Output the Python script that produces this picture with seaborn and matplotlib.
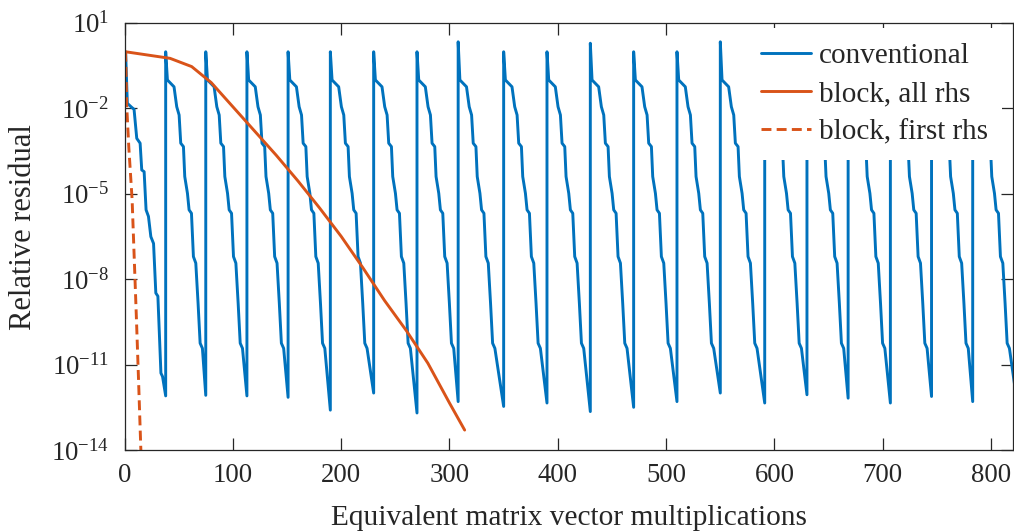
import numpy as np
import pandas as pd
import matplotlib
matplotlib.use("Agg")
import matplotlib.pyplot as plt
import seaborn as sns

# ---------------- data ----------------
# restart positions of the conventional (restarted) solver, in matvecs
restarts = [1, 38, 75, 113, 151, 190, 230, 270, 308, 350, 390, 430, 470,
            510, 550, 591, 630, 668, 707, 745, 783, 822]
# log10 residual at the start of each cycle
peak_log = [-0.02, -0.02, -0.02, -0.02, -0.02, -0.02, -0.02, -0.02, 0.33,
            -0.02, -0.02, 0.28, -0.02, -0.02, 0.33, -0.02, -0.02, -0.02,
            -0.02, -0.02, -0.02]
# log10 residual at the end of each cycle
min_log = [-12.1, -12.08, -12.1, -12.15, -12.6, -12.0, -12.7, -12.3, -12.47,
           -12.35, -12.65, -12.5, -12.3, -12.0, -12.35, -12.06, -12.18,
           -12.35, -12.12, -12.3, -11.8]
# first cycle interior vertices (offset in matvecs, log10 residual)
first_dx = [1.6, 5.6, 7.8, 10.3, 13.4, 14.9, 17.1, 18.9, 21.1, 23.3, 25.8,
            27.9, 29.8, 32.6, 34.1]
first_log = [-1.83, -1.97, -2.04, -3.06, -3.23, -4.17, -4.23, -5.57, -5.8,
             -6.51, -6.75, -8.49, -8.6, -11.3, -11.42]
# typical later cycle interior vertices
cyc_dx = [1.6, 7.7, 10.2, 12.4, 13.9, 16.4, 17.6, 20.1, 21.6, 23.8, 25.6,
          27.8, 29.9, 31.8, 33.9]
cyc_log = [-1.01, -1.25, -1.95, -2.24, -3.23, -3.35, -4.40, -4.99, -5.57,
           -5.69, -7.21, -7.44, -8.85, -10.25, -10.43]

block_all_x = [1, 42, 62, 80, 100, 120, 140, 160, 180, 200, 220, 240, 260,
               280, 300, 314]
block_all_log = [-0.02, -0.25, -0.54, -1.1, -1.95, -2.8, -3.65, -4.55, -5.5,
                 -6.5, -7.6, -8.75, -9.8, -10.95, -12.35, -13.3]

block_first_x = [1, 2, 4, 7, 9, 11, 13, 15, 16]
block_first_log = [-0.02, -1.9, -3.4, -5.2, -7.3, -9.4, -11.6, -13.9, -15.0]

labels = ["conventional", "block, all rhs", "block, first rhs"]
blue = "#0072BD"
orange = "#D95319"

# ---------------- build long-form tables ----------------
cx, cy = [], []
for k in range(len(peak_log)):
    s = restarts[k]
    dxs = first_dx if k == 0 else cyc_dx
    lgs = first_log if k == 0 else cyc_log
    cx.append(s); cy.append(peak_log[k])
    for d, l in zip(dxs, lgs):
        cx.append(s + d); cy.append(l)
    cx.append(restarts[k + 1]); cy.append(min_log[k])
conv = pd.DataFrame({"x": cx, "y": 10.0 ** np.array(cy)})
ball = pd.DataFrame({"x": block_all_x, "y": 10.0 ** np.array(block_all_log)})
bfirst = pd.DataFrame({"x": block_first_x, "y": 10.0 ** np.array(block_first_log)})

# ---------------- styling ----------------
sns.set_style("white")
plt.rcParams["font.family"] = ["Liberation Serif", "DejaVu Serif"]
plt.rcParams["mathtext.fontset"] = "custom"
plt.rcParams["mathtext.rm"] = "Liberation Serif"
plt.rcParams["mathtext.it"] = "Liberation Serif:italic"
plt.rcParams["mathtext.bf"] = "Liberation Serif:bold"

fig = plt.figure(figsize=(10.14, 5.32), dpi=100)
ax = fig.add_axes([0.1228, 0.1541, 0.876, 0.8032])

lw = 2.1
sns.lineplot(data=conv, x="x", y="y", ax=ax, color=blue, lw=lw, sort=False,
             estimator=None, label=labels[0])
sns.lineplot(data=ball, x="x", y="y", ax=ax, color=orange, lw=lw, sort=False,
             estimator=None, label=labels[1])
sns.lineplot(data=bfirst, x="x", y="y", ax=ax, color=orange, lw=lw, sort=False,
             estimator=None, label=labels[2], linestyle=(0, (3.4, 1.8)))

ax.set_yscale("log")
ax.set_xlim(0, 820)
ax.set_ylim(1e-14, 1e1)
ax.set_xticks([0, 100, 200, 300, 400, 500, 600, 700, 800])
yt = [1, -2, -5, -8, -11, -14]
ax.set_yticks([10.0 ** e for e in yt])
ax.set_yticklabels([r"$10^{%d}$" % e if e >= 0 else r"$10^{-%d}$" % (-e) for e in yt])
ax.yaxis.set_minor_locator(matplotlib.ticker.NullLocator())

tc = "#262626"
for sp in ax.spines.values():
    sp.set_visible(True)
    sp.set_color(tc)
    sp.set_linewidth(0.9)
ax.tick_params(axis="both", which="major", direction="in", length=8.5,
               width=0.9, color=tc, labelcolor=tc, labelsize=19.3,
               top=True, right=True, bottom=True, left=True)
ax.tick_params(axis="x", pad=9.4)
ax.tick_params(axis="y", pad=11)

ax.set_xlabel("Equivalent matrix vector multiplications", fontsize=21.2,
              color=tc, labelpad=12)
ax.set_ylabel("Relative residual", fontsize=22, color=tc)
ax.yaxis.set_label_coords(-0.097, 0.522)

leg = ax.legend(loc="upper right", bbox_to_anchor=(0.988, 0.988),
                fontsize=21, frameon=True, fancybox=False,
                facecolor="white", edgecolor="none", framealpha=1.0,
                handlelength=1.71, handletextpad=0.26, labelspacing=0.4,
                borderaxespad=0.0, borderpad=0.5)
for t in leg.get_texts():
    t.set_color(tc)

fig.savefig("out.png", dpi=100)
